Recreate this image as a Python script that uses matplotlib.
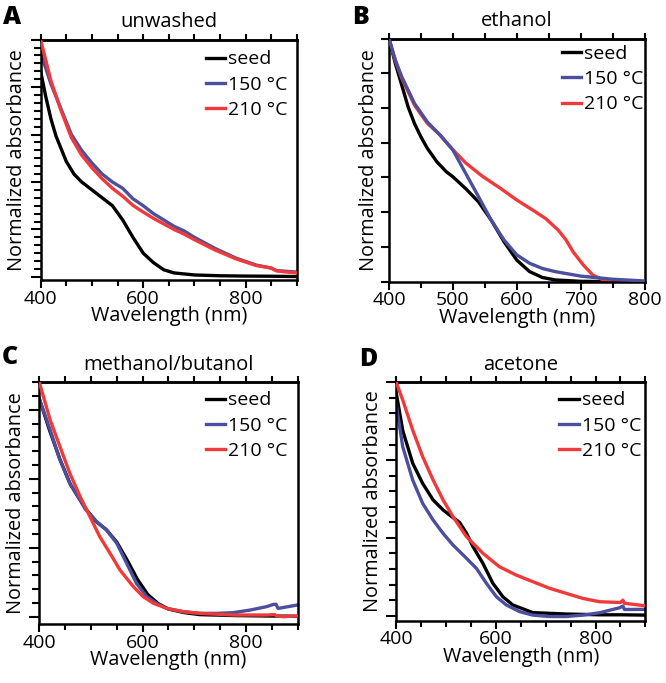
import matplotlib
matplotlib.use("Agg")
import matplotlib.pyplot as plt
from matplotlib.ticker import MultipleLocator

plt.rcParams['font.family'] = ['Open Sans', 'DejaVu Sans']

labels = ["seed", "150 °C", "210 °C"]
colors = ["black", "#4b4f9e", "#f03a3a"]

# A - unwashed
a_seed_nm = [400, 410, 420, 430, 440, 450, 465, 480, 500, 520, 540, 560, 580, 600, 620, 640, 660, 700, 750, 800, 850, 900]
a_seed = [1.30, 1.14, 1.00, 0.89, 0.81, 0.73, 0.65, 0.60, 0.55, 0.50, 0.45, 0.36, 0.25, 0.15, 0.09, 0.045, 0.025, 0.012, 0.007, 0.005, 0.004, 0.002]
a_150_nm = [400, 410, 420, 440, 460, 480, 500, 520, 540, 560, 580, 600, 620, 640, 660, 680, 700, 740, 780, 820, 850, 860, 900]
a_150 = [1.41, 1.32, 1.22, 1.06, 0.90, 0.80, 0.72, 0.65, 0.60, 0.56, 0.494, 0.45, 0.40, 0.36, 0.32, 0.29, 0.25, 0.18, 0.12, 0.075, 0.055, 0.04, 0.03]
a_210_nm = [400, 410, 420, 440, 460, 480, 500, 520, 540, 560, 580, 600, 620, 640, 660, 680, 700, 740, 780, 820, 850, 855, 860, 875, 900]
a_210 = [1.50, 1.37, 1.24, 1.05, 0.88, 0.77, 0.69, 0.62, 0.56, 0.51, 0.452, 0.41, 0.37, 0.335, 0.30, 0.27, 0.235, 0.17, 0.115, 0.072, 0.056, 0.045, 0.038, 0.032, 0.025]

# B - ethanol
b_seed_nm = [400, 410, 420, 430, 440, 450, 460, 475, 490, 500, 520, 540, 560, 580, 600, 620, 640, 660, 700, 750, 800]
b_seed = [0.70, 0.628, 0.566, 0.503, 0.455, 0.417, 0.384, 0.345, 0.316, 0.302, 0.268, 0.230, 0.177, 0.115, 0.062, 0.029, 0.012, 0.005, 0.001, 0.0, 0.0]
b_150_nm = [400, 410, 420, 440, 460, 480, 500, 520, 540, 560, 580, 600, 620, 640, 660, 700, 750, 800]
b_150 = [0.70, 0.638, 0.590, 0.513, 0.460, 0.422, 0.379, 0.312, 0.245, 0.177, 0.120, 0.077, 0.053, 0.038, 0.029, 0.016, 0.007, 0.002]
b_210_nm = [400, 410, 420, 440, 460, 480, 500, 520, 545, 575, 600, 625, 645, 665, 677, 688, 704, 719, 735, 750, 800]
b_210 = [0.70, 0.636, 0.586, 0.508, 0.456, 0.422, 0.380, 0.342, 0.305, 0.268, 0.235, 0.206, 0.182, 0.148, 0.120, 0.086, 0.048, 0.019, 0.005, 0.001, 0.0]

# C - methanol/butanol
c_seed_nm = [400, 420, 440, 460, 480, 490, 510, 530, 550, 570, 590, 610, 630, 650, 680, 710, 780, 840, 870, 900]
c_seed = [1.58, 1.35, 1.14, 0.96, 0.84, 0.78, 0.69, 0.63, 0.54, 0.41, 0.27, 0.16, 0.095, 0.055, 0.03, 0.015, 0.008, 0.005, 0.004, 0.003]
c_150_nm = [400, 421, 440, 459, 479, 488, 511, 530, 550, 569, 588, 608, 627, 646, 679, 711, 743, 775, 808, 840, 853, 858, 862, 900]
c_150 = [1.58, 1.354, 1.137, 0.967, 0.846, 0.786, 0.689, 0.629, 0.532, 0.387, 0.242, 0.145, 0.097, 0.060, 0.036, 0.024, 0.024, 0.029, 0.048, 0.073, 0.089, 0.09, 0.06, 0.085]
c_210_nm = [400, 408, 421, 440, 459, 479, 498, 517, 537, 556, 582, 601, 621, 647, 679, 711, 776, 840, 855, 860, 872, 900]
c_210 = [1.70, 1.596, 1.427, 1.233, 1.040, 0.871, 0.726, 0.580, 0.459, 0.339, 0.218, 0.145, 0.097, 0.060, 0.036, 0.024, 0.012, 0.012, 0.015, 0.005, 0.0, 0.005]

# D - acetone
d_seed_nm = [400, 413, 433, 453, 474, 494, 510, 527, 541, 554, 574, 594, 614, 634, 674, 741, 808, 855, 900]
d_seed = [1.43, 1.19, 0.98, 0.85, 0.744, 0.68, 0.64, 0.60, 0.53, 0.444, 0.336, 0.208, 0.122, 0.069, 0.02, 0.011, 0.006, 0.006, 0.004]
d_150_nm = [400, 413, 433, 453, 474, 494, 514, 541, 561, 581, 601, 621, 648, 674, 708, 741, 775, 808, 848, 855, 858, 900]
d_150 = [1.354, 1.086, 0.872, 0.722, 0.615, 0.529, 0.454, 0.369, 0.304, 0.208, 0.122, 0.069, 0.026, 0.004, -0.005, -0.005, 0.004, 0.019, 0.051, 0.062, 0.04, 0.041]
d_210_nm = [400, 413, 433, 453, 474, 494, 514, 541, 574, 607, 641, 674, 708, 741, 775, 808, 850, 855, 858, 900]
d_210 = [1.50, 1.386, 1.193, 1.022, 0.872, 0.744, 0.636, 0.508, 0.401, 0.315, 0.261, 0.219, 0.176, 0.144, 0.111, 0.090, 0.085, 0.10, 0.08, 0.064]

fig = plt.figure(figsize=(6.66, 6.83), dpi=100)


def panel(rect, letter, letter_y, title, curves, xmax, xmajor, ylim, ymajor, yminor, leg_xy, order=(1, 2, 3)):
    ax = fig.add_axes(rect)
    for (nm, val), lab, col, z in zip(curves, labels, colors, order):
        ax.plot(nm, val, color=col, lw=2.4, label=lab, zorder=z)
    ax.set_xlim(400, xmax)
    ax.set_ylim(*ylim)
    ax.xaxis.set_major_locator(MultipleLocator(xmajor))
    ax.xaxis.set_minor_locator(MultipleLocator(50))
    ax.yaxis.set_major_locator(MultipleLocator(ymajor))
    if yminor:
        ax.yaxis.set_minor_locator(MultipleLocator(yminor))
    for s in ax.spines.values():
        s.set_linewidth(1.8)
    ax.tick_params(which='both', direction='out', width=1.5, labelleft=False, labelsize=14, pad=1)
    ax.tick_params(axis='x', which='major', length=6)
    ax.tick_params(axis='x', which='minor', length=4)
    ax.tick_params(axis='y', which='major', length=7.5 if yminor else 5.5)
    ax.tick_params(axis='y', which='minor', length=5)
    top = ax.secondary_xaxis('top')
    top.xaxis.set_major_locator(MultipleLocator(50))
    top.tick_params(direction='out', length=4.5, width=1.5, labeltop=False)
    top.spines['top'].set_linewidth(1.8)
    ax.set_xlabel('Wavelength (nm)', fontsize=14.3, labelpad=-1)
    ax.set_ylabel('Normalized absorbance', fontsize=14.3, labelpad=2)
    ax.set_title(title, fontsize=14.5, pad=9)
    ax.legend(loc='upper left', bbox_to_anchor=leg_xy, frameon=False, fontsize=14,
              handlelength=1.0, handletextpad=0.15, labelspacing=0.38, borderpad=0, borderaxespad=0)
    fig.text(rect[0] - 0.056, letter_y, letter, fontsize=18, fontweight='heavy',
             va='center', ha='left')
    return ax


panel([0.061, 0.590, 0.385, 0.352], 'A', 1 - 17 / 683, 'unwashed',
      [(a_seed_nm, a_seed), (a_150_nm, a_150), (a_210_nm, a_210)],
      900, 200, (-0.02, 1.5), 0.3, 0.05, (0.645, 0.955))
panel([0.584, 0.5876, 0.384, 0.356], 'B', 1 - 17 / 683, 'ethanol',
      [(b_seed_nm, b_seed), (b_150_nm, b_150), (b_210_nm, b_210)],
      800, 100, (0, 0.7), 0.1, None, (0.675, 0.975), order=(1, 3, 2))
panel([0.059, 0.0864, 0.388, 0.354], 'C', 1 - 358 / 683, 'methanol/butanol',
      [(c_seed_nm, c_seed), (c_150_nm, c_150), (c_210_nm, c_210)],
      900, 200, (-0.053, 1.7), 0.5, 0.1, (0.645, 0.962))
panel([0.595, 0.0912, 0.374, 0.349], 'D', 1 - 359 / 683, 'acetone',
      [(d_seed_nm, d_seed), (d_150_nm, d_150), (d_210_nm, d_210)],
      900, 200, (-0.032, 1.5), 0.5, 0.1, (0.655, 0.962))

fig.savefig('out.png', dpi=100)
